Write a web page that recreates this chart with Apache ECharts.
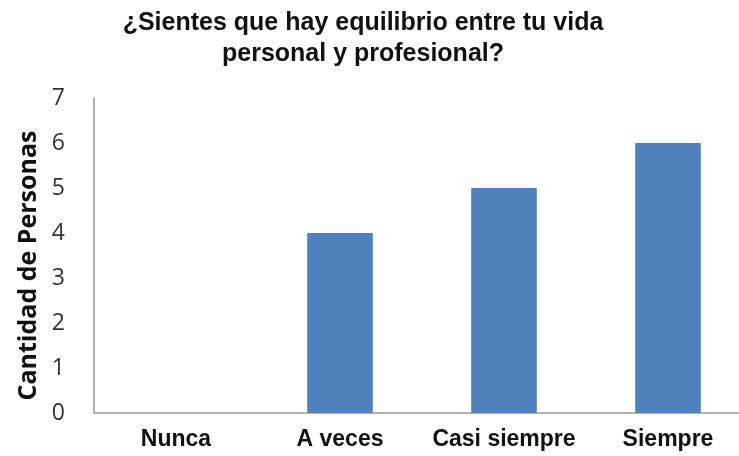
<!DOCTYPE html>
<html>
<head>
<meta charset="utf-8">
<script src="https://cdn.jsdelivr.net/npm/echarts@6/dist/echarts.min.js"></script>
<style>
  html, body { margin: 0; padding: 0; background: #fff; }
  #chart { width: 739px; height: 456px; }
</style>
</head>
<body>
<div id="chart"></div>
<script>
// Survey answers: "Do you feel there is balance between personal and professional life?"
const categories = ['Nunca', 'A veces', 'Casi siempre', 'Siempre'];
const personas = [0, 4, 5, 6];
const yTicks = [0, 1, 2, 3, 4, 5, 6, 7];

const chart = echarts.init(document.getElementById('chart'));
chart.setOption({
  animation: false,
  title: {
    text: '¿Sientes que hay equilibrio entre tu vida\npersonal y profesional?',
    left: 358,
    textAlign: 'center',
    top: 3,
    textStyle: {
      fontFamily: 'Liberation Sans, Arial, sans-serif',
      fontWeight: 'bold',
      fontSize: 25,
      lineHeight: 31,
      color: '#111'
    }
  },
  grid: {
    left: 94, width: 656, top: 98, bottom: 43,
    containLabel: false,
    outerBoundsMode: 'none'
  },
  xAxis: {
    type: 'category',
    data: categories,
    axisLine: { lineStyle: { color: '#9a9a9a', width: 1.5 } },
    axisTick: { show: false },
    axisLabel: {
      interval: 0,
      hideOverlap: false,
      margin: 15,
      fontFamily: 'Liberation Sans, Arial, sans-serif',
      fontWeight: 'bold',
      fontSize: 23,
      color: '#111'
    }
  },
  yAxis: {
    type: 'value',
    min: yTicks[0],
    max: yTicks[yTicks.length - 1],
    interval: 1,
    name: 'Cantidad de Personas',
    nameLocation: 'middle',
    nameGap: 53,
    nameTextStyle: {
      fontFamily: 'Open Sans, Liberation Sans, sans-serif',
      fontWeight: 'bold',
      fontSize: 25,
      color: '#111',
      padding: [0, 20, 0, 0]
    },
    axisLine: { show: true, lineStyle: { color: '#9a9a9a', width: 1.5 } },
    axisTick: { show: false },
    splitLine: { show: false },
    axisLabel: {
      margin: 29,
      fontFamily: 'Open Sans, Liberation Sans, sans-serif',
      fontSize: 23,
      color: '#333'
    }
  },
  series: [{
    type: 'bar',
    data: personas,
    barWidth: '40%',
    itemStyle: { color: '#4f81bd' }
  }]
});
</script>
</body>
</html>
